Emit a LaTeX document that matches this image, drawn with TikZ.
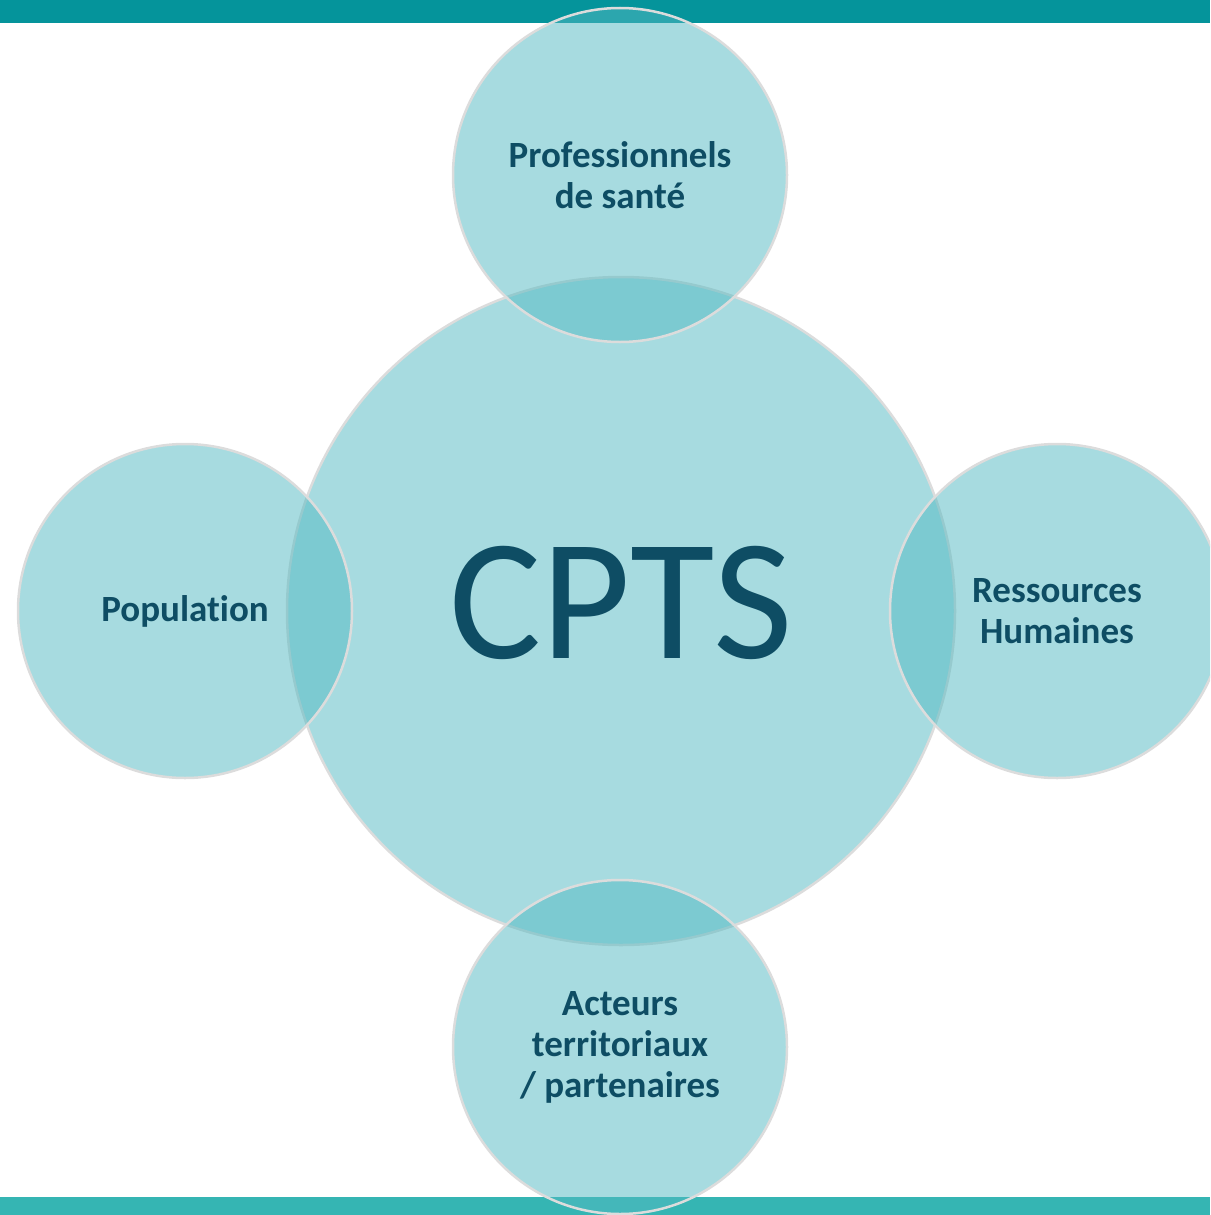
\documentclass[tikz,border=0pt]{standalone}
\usepackage{fontspec}
\setmainfont{Carlito}[Ligatures=NoCommon]
\definecolor{topbar}{HTML}{05949B}
\definecolor{botbar}{HTML}{35B5B3}
\definecolor{circfill}{RGB}{83,185,194}
\definecolor{circline}{HTML}{DCDCDC}
\definecolor{txt}{HTML}{0E4D64}
\begin{document}
\begin{tikzpicture}[x=1pt,y=-1pt,
  bubble/.style={circle,fill=circfill,fill opacity=0.51,draw=circline,draw opacity=1,line width=2.5pt,inner sep=0pt,text opacity=1},
  lbl/.style={text=txt,font=\fontsize{37}{41}\selectfont\bfseries,align=center}]
\useasboundingbox (0,0) rectangle (1210,1215);
\clip (0,0) rectangle (1210,1215);
\fill[topbar] (0,0) rectangle (1210,23);
\fill[botbar] (0,1197) rectangle (1210,1215);
\node[bubble,minimum size=668pt] (cpts) at (621,611) {};
\node[bubble,minimum size=334pt] (prof) at (620,175) {};
\node[bubble,minimum size=334pt] (pop) at (185,611) {};
\node[bubble,minimum size=334pt] (rh) at (1057,611) {};
\node[bubble,minimum size=334pt] (act) at (620,1047) {};
\node[text=txt,font=\fontsize{173}{173}\selectfont] (cptst) at (621,603) {CPTS};
\node[lbl] (proft) at (prof) {Professionnels\\de santé};
\node[lbl] (popt) at (pop) {Population};
\node[lbl] (rht) at (rh) {Ressources\\Humaines};
\node[lbl] (actt) at (act) {Acteurs\\territoriaux\\/ partenaires};
\end{tikzpicture}
\end{document}
